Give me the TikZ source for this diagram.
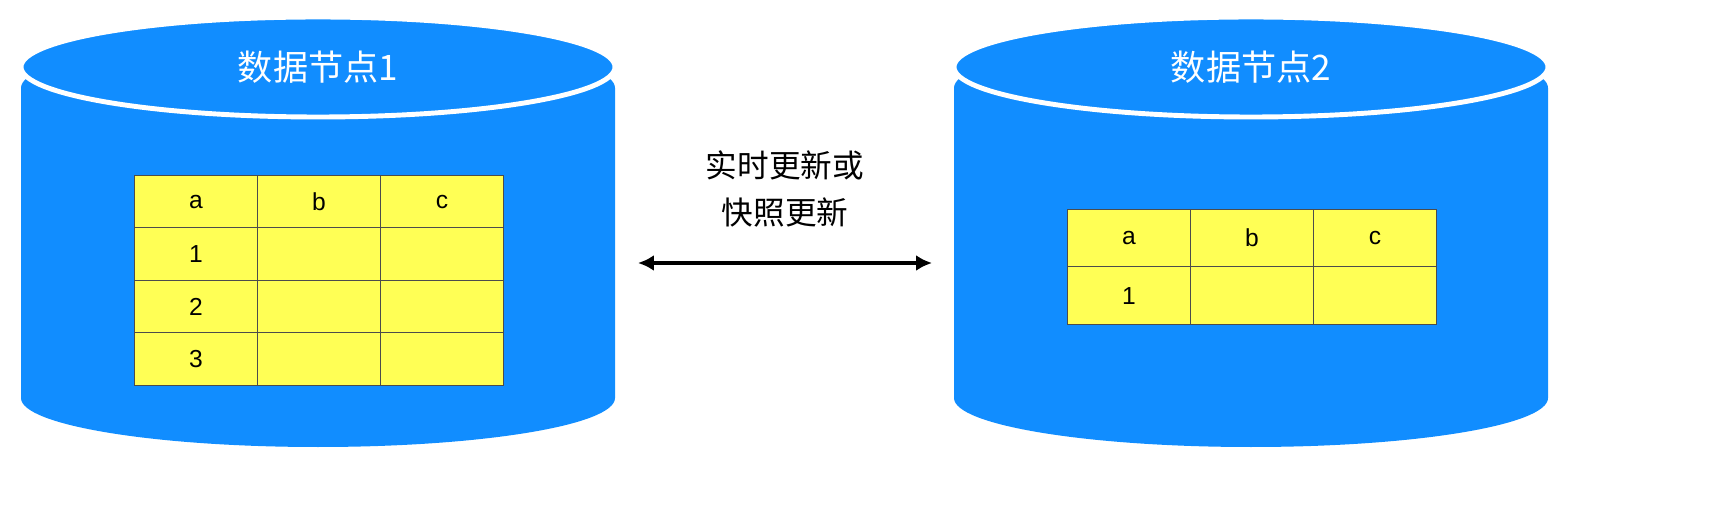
\documentclass[tikz,border=0pt]{standalone}
\usepackage{fontspec}
\usetikzlibrary{arrows.meta}
\setmainfont{Liberation Sans}
\newfontfamily\cjk{Noto Sans CJK SC}
\definecolor{cylblue}{HTML}{118DFF}
\definecolor{cellyel}{HTML}{FFFF55}
\begin{document}
\begin{tikzpicture}[x=0.02cm,y=-0.02cm,
  cell/.style={draw=black!70,line width=0.5pt,fill=cellyel,minimum width=2.46cm,anchor=north west,inner sep=0pt,font=\fontsize{14}{16}\selectfont},
  title/.style={text=white,font=\cjk\fontsize{20}{24}\selectfont},
  lbl/.style={font=\cjk\fontsize{18}{27}\selectfont,align=center}]
\useasboundingbox (0,0) rectangle (1734,506);
\foreach \cx/\nm in {318/1,1251/2}{
  \fill[cylblue] (\cx-297,88) arc[start angle=180,end angle=0,x radius=297,y radius=-50] -- (\cx+297,398) arc[start angle=0,end angle=-180,x radius=297,y radius=-49] -- cycle;
  \filldraw[cylblue,draw=white,line width=2.8pt] (\cx,67) ellipse[x radius=297,y radius=50];
  \node[title] (t\nm) at (\cx,67) {数据节点\nm};
}
\foreach \r/\t in {0/a,1/1,2/2,3/3}{
  \node[cell,minimum height=1.05cm] (l\r a) at (134,175+52.5*\r) {\t};
  \node[cell,minimum height=1.05cm] (l\r b) at (257,175+52.5*\r) {\ifnum\r=0 b\fi};
  \node[cell,minimum height=1.05cm] (l\r c) at (380,175+52.5*\r) {\ifnum\r=0 c\fi};
}
\foreach \r/\t in {0/a,1/1}{
  \node[cell,minimum height=1.15cm] (r\r a) at (1067,209+57.5*\r) {\t};
  \node[cell,minimum height=1.15cm] (r\r b) at (1190,209+57.5*\r) {\ifnum\r=0 b\fi};
  \node[cell,minimum height=1.15cm] (r\r c) at (1313,209+57.5*\r) {\ifnum\r=0 c\fi};
}
\coordinate (al) at (638,263);
\coordinate (ar) at (932,263);
\draw[line width=2pt,{Latex[length=9pt,width=9pt]}-{Latex[length=9pt,width=9pt]}] (al) -- (ar);
\node[lbl] (lab) at (785,189) {实时更新或\\快照更新};
\end{tikzpicture}
\end{document}
